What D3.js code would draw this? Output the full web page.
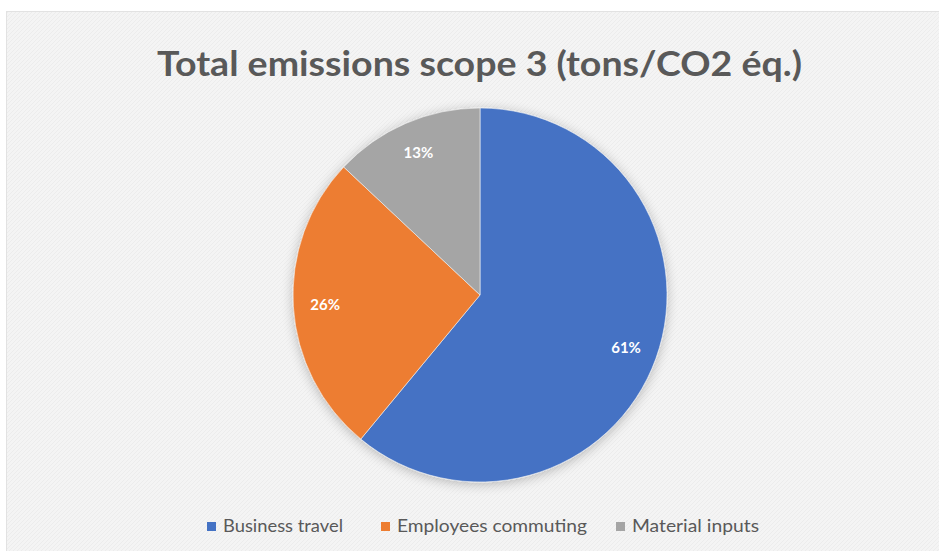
<!DOCTYPE html>
<html><head><meta charset="utf-8">
<script src="https://cdn.jsdelivr.net/npm/d3@7/dist/d3.min.js"></script>
<style>html,body{margin:0;padding:0;background:#fff;}svg{display:block;}</style>
</head><body>
<svg id="c" width="939" height="551"></svg>
<script>
const categories = ["Business travel", "Employees commuting", "Material inputs"];
const values = [61, 26, 13];
const colors = ["#4472C4", "#ED7D31", "#A5A5A5"];
const title = "Total emissions scope 3 (tons/CO2 éq.)";

const svg = d3.select("#c");
const defs = svg.append("defs");
const pat = defs.append("pattern").attr("id","hatch").attr("patternUnits","userSpaceOnUse")
  .attr("width",4).attr("height",4);
pat.append("rect").attr("width",4).attr("height",4).attr("fill","#f4f4f4");
pat.append("path").attr("d","M0,4 L4,0 M-1,1 L1,-1 M3,5 L5,3").attr("stroke","#ececec").attr("stroke-width",1);
const f = defs.append("filter").attr("id","sh").attr("x","-20%").attr("y","-20%").attr("width","140%").attr("height","140%");
f.append("feGaussianBlur").attr("in","SourceAlpha").attr("stdDeviation",6).attr("result","b");
f.append("feOffset").attr("in","b").attr("dx",0).attr("dy",2).attr("result","o");
f.append("feComponentTransfer").attr("in","o").attr("result","o2").append("feFuncA").attr("type","linear").attr("slope",0.25);
const fm = f.append("feMerge"); fm.append("feMergeNode").attr("in","o2"); fm.append("feMergeNode").attr("in","SourceGraphic");

svg.append("rect").attr("x",6.5).attr("y",11.5).attr("width",940).attr("height",545)
  .attr("fill","url(#hatch)").attr("stroke","#e2e2e2");

svg.append("text").attr("x",479.5).attr("y",76).attr("text-anchor","middle")
  .attr("font-family","Lato, 'Open Sans', sans-serif").attr("font-weight",700)
  .attr("font-size",35).attr("fill","#595959")
  .attr("textLength",645).attr("lengthAdjust","spacingAndGlyphs").text(title);

const cx = 480, cy = 295, R = 187;
const pie = d3.pie().sort(null).value(d=>d);
const arcs = pie(values);
const arc = d3.arc().innerRadius(0).outerRadius(R);
const labelArc = d3.arc().innerRadius(R*0.83).outerRadius(R*0.83);
const g = svg.append("g").attr("transform",`translate(${cx},${cy})`);
g.append("g").attr("filter","url(#sh)").selectAll("path").data(arcs).join("path")
  .attr("d",arc).attr("fill",(d,i)=>colors[i]).attr("stroke","#f4f4f4").attr("stroke-width",0.6);
g.selectAll("text").data(arcs).join("text")
  .attr("transform",d=>`translate(${labelArc.centroid(d)})`)
  .attr("text-anchor","middle").attr("dy","0.35em")
  .attr("font-family","Lato, 'Open Sans', sans-serif").attr("font-weight",700)
  .attr("font-size",15).attr("fill","#ffffff")
  .text(d=>d.data+"%");

// legend
const legX = [207, 381, 616];
const legW = [120, 190, 127];
const lg = svg.append("g");
categories.forEach((c,i)=>{
  lg.append("rect").attr("x",legX[i]).attr("y",522).attr("width",9).attr("height",9).attr("fill",colors[i]);
  lg.append("text").attr("x",legX[i]+16).attr("y",532)
    .attr("font-family","Lato, 'Open Sans', sans-serif").attr("font-size",17).attr("fill","#595959")
    .attr("textLength",legW[i]).attr("lengthAdjust","spacingAndGlyphs").text(c);
});
</script>
</body></html>
